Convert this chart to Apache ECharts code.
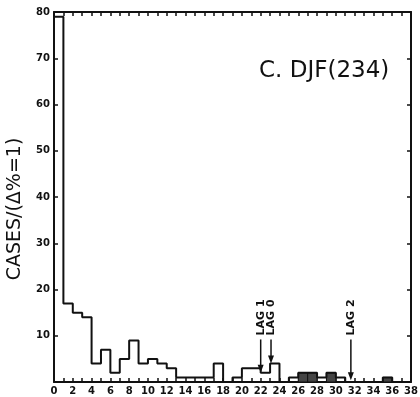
<!DOCTYPE html>
<html>
<head>
<meta charset="utf-8">
<script src="https://cdn.jsdelivr.net/npm/echarts@6/dist/echarts.min.js"></script>
<style>
html, body { margin: 0; padding: 0; background: #fff; }
#chart { width: 420px; height: 397px; }
</style>
</head>
<body>
<div id="chart"></div>
<script>
// histogram counts, one bin per 1 %, starting at 0
var counts = [79, 17, 15, 14, 4, 7, 2, 5, 9, 4, 5, 4, 3, 1, 1, 1, 1, 4, 0, 1,
              3, 3, 2, 4, 0, 1, 2, 2, 1, 2, 1, 0, 0, 0, 0, 1];
var shadedBins = [26, 27, 29, 35];
var xMax = 38;
var yMax = 80;

var lagNames = ['LAG 1', 'LAG 0', 'LAG 2'];
var lagX = [22, 23.1, 31.6];
var lagTip = [2, 4, 0.4];
var lagTop = 9.2;

// outline of the histogram as corner points
var outline = [[0, 0]];
counts.forEach(function (v, i) {
    outline.push([i, v]);
    outline.push([i + 1, v]);
});
outline.push([counts.length, 0]);

var shaded = shadedBins.map(function (b) { return [b, b + 1, counts[b]]; });
var lags = lagNames.map(function (n, i) { return { name: n, value: [lagX[i], lagTip[i]] }; });

var ink = '#111';
var tickLen = 4;
var tickFont = { color: ink, fontSize: 10, fontWeight: 'bold', fontFamily: 'DejaVu Sans' };

function frameAxis(pos, max, step, labels) {
    return {
        type: 'value', position: pos,
        min: 0, max: max, interval: step,
        axisLine: { onZero: false, lineStyle: { color: ink, width: 2 } },
        axisTick: { inside: true, length: tickLen, lineStyle: { color: ink, width: 1.5 } },
        axisLabel: labels ? Object.assign({ margin: 4, formatter: labels }, tickFont) : { show: false },
        splitLine: { show: false }
    };
}

var myChart = echarts.init(document.getElementById('chart'));

var option = {
    animation: false,
    title: {
        text: 'C. DJF(234)',
        left: 254, top: 55,
        textStyle: { color: ink, fontSize: 23, fontWeight: 'normal', fontFamily: 'DejaVu Sans' }
    },
    graphic: [{
        type: 'text',
        x: 15, y: 209,
        rotation: Math.PI / 2,
        style: {
            text: 'CASES/(\u0394%=1)',
            fill: ink,
            font: '19px "DejaVu Sans"',
            align: 'center', verticalAlign: 'middle'
        }
    }],
    grid: { left: 54, right: 9, top: 12, bottom: 15, containLabel: false, outerBoundsMode: 'none' },
    xAxis: [
        frameAxis('bottom', xMax, 1, function (v) { return v % 2 === 0 ? v : ''; }),
        frameAxis('top', xMax, 1, null)
    ],
    yAxis: [
        frameAxis('left', yMax, 10, function (v) { return v === 0 ? '' : v; }),
        frameAxis('right', yMax, 10, null)
    ],
    series: [
        {
            type: 'custom',
            xAxisIndex: 0, yAxisIndex: 0,
            data: shaded,
            encode: { x: [0, 1], y: 2 },
            renderItem: function (params, api) {
                var a = api.coord([api.value(0), api.value(2)]);
                var b = api.coord([api.value(1), 0]);
                return {
                    type: 'rect',
                    shape: { x: a[0], y: a[1], width: b[0] - a[0], height: b[1] - a[1] },
                    style: { fill: '#444', stroke: ink, lineWidth: 1 }
                };
            }
        },
        {
            type: 'line',
            xAxisIndex: 0, yAxisIndex: 0,
            data: outline,
            symbol: 'none',
            lineStyle: { color: ink, width: 2 }
        },
        {
            type: 'custom',
            xAxisIndex: 0, yAxisIndex: 0,
            data: lags,
            renderItem: function (params, api) {
                var top = api.coord([api.value(0), lagTop]);
                var tip = api.coord([api.value(0), api.value(1)]);
                var x = top[0];
                return {
                    type: 'group',
                    children: [
                        {
                            type: 'line',
                            shape: { x1: x, y1: top[1], x2: x, y2: tip[1] - 6 },
                            style: { stroke: ink, lineWidth: 1.5 }
                        },
                        {
                            type: 'polygon',
                            shape: { points: [[x - 3, tip[1] - 8], [x + 3, tip[1] - 8], [x, tip[1]]] },
                            style: { fill: ink }
                        },
                        {
                            type: 'text',
                            x: x, y: top[1] - 4,
                            rotation: Math.PI / 2,
                            style: {
                                text: lagNames[params.dataIndex],
                                fill: ink,
                                font: 'bold 11px "DejaVu Sans"',
                                align: 'left', verticalAlign: 'middle'
                            }
                        }
                    ]
                };
            }
        }
    ]
};

myChart.setOption(option);
window.addEventListener('resize', function () {
    myChart.resize();
});
</script>
</body>
</html>
